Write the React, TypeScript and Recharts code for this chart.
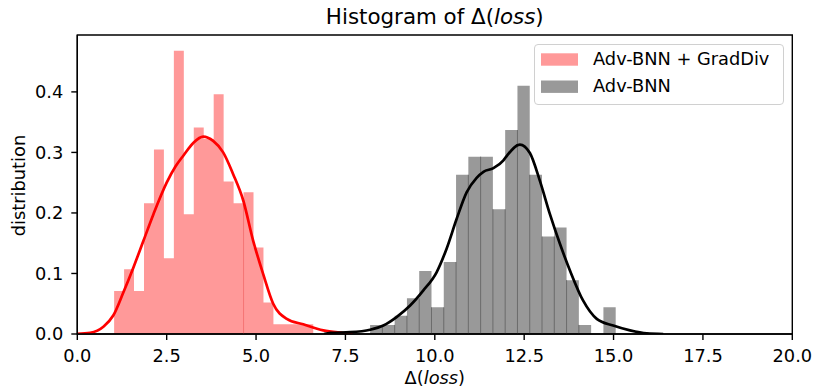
import React from 'react';
import {
  ComposedChart,
  Area,
  Line,
  XAxis,
  YAxis,
  ReferenceLine,
  ReferenceArea,
  Legend,
} from 'recharts';

// ---------- data ----------
const xTicks = [0, 2.5, 5, 7.5, 10, 12.5, 15, 17.5, 20];
const yTicks = [0, 0.1, 0.2, 0.3, 0.4];

const gradDivName = 'Adv-BNN + GradDiv';
const gradDivBinStart = 1.03;
const gradDivBinWidth = 0.2785;
const gradDivHeights = [
  0.071, 0.107, 0.071, 0.216, 0.305, 0.125, 0.468, 0.198, 0.341, 0.322,
  0.396, 0.252, 0.216, 0.234, 0.143, 0.052, 0.016, 0.016, 0.016, 0.016,
];
const gradDivVisibleEdges = [13];
const gradDivKde = [
  { x: 0.0, y: 0.0003 }, { x: 0.36, y: 0.002 }, { x: 0.73, y: 0.012 },
  { x: 1.01, y: 0.031 }, { x: 1.29, y: 0.069 }, { x: 1.57, y: 0.11 },
  { x: 1.85, y: 0.154 }, { x: 2.13, y: 0.198 }, { x: 2.5, y: 0.25 },
  { x: 2.75, y: 0.277 }, { x: 2.97, y: 0.295 }, { x: 3.25, y: 0.316 },
  { x: 3.52, y: 0.326 }, { x: 3.8, y: 0.319 }, { x: 4.08, y: 0.3 },
  { x: 4.36, y: 0.264 }, { x: 4.64, y: 0.221 }, { x: 4.92, y: 0.154 },
  { x: 5.2, y: 0.099 }, { x: 5.48, y: 0.05 }, { x: 5.86, y: 0.025 },
  { x: 6.32, y: 0.016 }, { x: 6.88, y: 0.006 }, { x: 7.44, y: 0.0017 },
  { x: 7.7, y: 0 },
];

const advBnnName = 'Adv-BNN';
const advBnnBinStart = 8.19;
const advBnnBinWidth = 0.3435;
const advBnnHeights = [
  0.015, 0.015, 0.03, 0.059, 0.104, 0.044, 0.119, 0.263, 0.293, 0.293,
  0.206, 0.337, 0.41, 0.263, 0.161, 0.176, 0.089, 0.015, 0, 0.044,
];
const advBnnKde = [
  { x: 6.9, y: 0 }, { x: 7.08, y: 0.002 }, { x: 7.63, y: 0.003 },
  { x: 8.19, y: 0.007 }, { x: 8.56, y: 0.014 }, { x: 8.93, y: 0.028 },
  { x: 9.31, y: 0.047 }, { x: 9.68, y: 0.072 }, { x: 10.05, y: 0.102 },
  { x: 10.33, y: 0.141 }, { x: 10.61, y: 0.19 }, { x: 10.89, y: 0.234 },
  { x: 11.17, y: 0.258 }, { x: 11.36, y: 0.268 }, { x: 11.64, y: 0.274 },
  { x: 11.92, y: 0.287 }, { x: 12.01, y: 0.294 }, { x: 12.38, y: 0.313 },
  { x: 12.66, y: 0.299 }, { x: 12.94, y: 0.253 }, { x: 13.22, y: 0.198 },
  { x: 13.5, y: 0.149 }, { x: 13.78, y: 0.105 }, { x: 14.15, y: 0.055 },
  { x: 14.53, y: 0.025 }, { x: 14.99, y: 0.014 }, { x: 15.46, y: 0.006 },
  { x: 15.93, y: 0.001 }, { x: 16.39, y: 0 },
];

const legendOrder = [gradDivName, advBnnName];
const colorByName: Record<string, string> = {
  [gradDivName]: '#ff9999',
  [advBnnName]: '#999999',
};

// ---------- helpers ----------
function histSteps(start: number, width: number, heights: number[]) {
  const pts = heights.map((h, i) => ({ x: start + i * width, y: h }));
  pts.push({ x: start + heights.length * width, y: heights[heights.length - 1] });
  return pts;
}

function edgeSegments(start: number, width: number, heights: number[], only?: number[]) {
  const segs: { x: number; top: number }[] = [];
  for (let i = 1; i < heights.length; i++) {
    if (only && !only.includes(i)) continue;
    const top = Math.min(heights[i - 1], heights[i]);
    if (top > 0) segs.push({ x: start + i * width, top });
  }
  return segs;
}

const gradDivSteps = histSteps(gradDivBinStart, gradDivBinWidth, gradDivHeights);
const advBnnSteps = histSteps(advBnnBinStart, advBnnBinWidth, advBnnHeights);
const gradDivEdges = edgeSegments(gradDivBinStart, gradDivBinWidth, gradDivHeights, gradDivVisibleEdges);
const advBnnEdges = edgeSegments(advBnnBinStart, advBnnBinWidth, advBnnHeights);

const FONT = 'DejaVu Sans';
const tickStyle = { fill: '#000', fontSize: 17.8, fontFamily: FONT };

const renderLegend = (props: any) => {
  const items = (props.payload || [])
    .filter((p: any) => p.type !== 'none' && legendOrder.includes(p.value))
    .slice()
    .sort((a: any, b: any) => legendOrder.indexOf(a.value) - legendOrder.indexOf(b.value));
  return (
    <svg width={250} height={61} style={{ display: 'block' }}>
      <rect x={0.5} y={0.5} width={249} height={60} rx={3.5} fill="#fff" fillOpacity={0.8} stroke="#d0d0d0" strokeWidth={1} />
      {items.map((it: any, i: number) => {
        const cy = 15.5 + i * 27.2;
        const color = colorByName[it.value] ?? it.color;
        return (
          <g key={i}>
            <rect x={7} y={cy - 6.2} width={37} height={12.4} fill={color} />
            <text x={59} y={cy + 5.7} fontSize={17.8} fontFamily={FONT} fill="#000">
              {it.value}
            </text>
          </g>
        );
      })}
    </svg>
  );
};

export default function App() {
  return (
    <div style={{ position: 'absolute', left: 0, top: 0, width: 815, height: 390, background: '#fff' }}>
      <ComposedChart
        width={815}
        height={390}
        margin={{ top: 35, right: 22.7, bottom: 0, left: 0 }}
      >
        <XAxis
          dataKey="x"
          type="number"
          domain={[0, 20]}
          ticks={xTicks}
          allowDataOverflow
          tickFormatter={(v: number) => v.toFixed(1)}
          height={56}
          tickSize={6}
          tickMargin={9}
          tick={tickStyle}
          axisLine={{ stroke: '#000', strokeWidth: 1.4 }}
          tickLine={{ stroke: '#000', strokeWidth: 1.4 }}
        />
        <YAxis
          type="number"
          domain={[0, 0.494]}
          ticks={yTicks}
          allowDataOverflow
          tickFormatter={(v: number) => v.toFixed(1)}
          width={77.3}
          tickSize={6}
          tickMargin={8}
          tick={tickStyle}
          axisLine={{ stroke: '#000', strokeWidth: 1.4 }}
          tickLine={{ stroke: '#000', strokeWidth: 1.4 }}
        />
        <Area
          name={gradDivName}
          data={gradDivSteps}
          dataKey="y"
          type="stepAfter"
          fill="#ff9999"
          fillOpacity={1}
          stroke="none"
          isAnimationActive={false}
        />
        {gradDivEdges.map((e, i) => (
          <ReferenceLine
            key={`gd-${i}`}
            segment={[{ x: e.x, y: 0 }, { x: e.x, y: e.top }]}
            stroke="#f26b6b"
            strokeWidth={0.8}
          />
        ))}
        <Line
          name="gradDivKde"
          data={gradDivKde}
          dataKey="y"
          type="monotone"
          dot={false}
          stroke="#ff0000"
          strokeWidth={2.7}
          legendType="none"
          isAnimationActive={false}
        />
        <Area
          name={advBnnName}
          data={advBnnSteps}
          dataKey="y"
          type="stepAfter"
          fill="#999999"
          fillOpacity={1}
          stroke="none"
          isAnimationActive={false}
        />
        {advBnnEdges.map((e, i) => (
          <ReferenceLine
            key={`ab-${i}`}
            segment={[{ x: e.x, y: 0 }, { x: e.x, y: e.top }]}
            stroke="#5f5f5f"
            strokeWidth={0.8}
          />
        ))}
        <Line
          name="advBnnKde"
          data={advBnnKde}
          dataKey="y"
          type="monotone"
          dot={false}
          stroke="#000000"
          strokeWidth={2.7}
          legendType="none"
          isAnimationActive={false}
        />
        <ReferenceArea
          x1={0}
          x2={20}
          y1={0}
          y2={0.494}
          fill="none"
          fillOpacity={0}
          stroke="#000"
          strokeWidth={1.4}
        />
        <Legend
          layout="horizontal"
          verticalAlign="middle"
          align="center"
          itemSorter={null as any}
          content={renderLegend}
          wrapperStyle={{ left: 534, top: 44, width: 250, height: 61 }}
        />
      </ComposedChart>
      <svg
        width={815}
        height={390}
        style={{ position: 'absolute', left: 0, top: 0, pointerEvents: 'none' }}
      >
        <text x={434.8} y={24} textAnchor="middle" fontSize={21.4} fontFamily={FONT} fill="#000">
          Histogram of Δ(<tspan fontStyle="italic">loss</tspan>)
        </text>
        <text x={434.8} y={384} textAnchor="middle" fontSize={17.8} fontFamily={FONT} fill="#000">
          Δ(<tspan fontStyle="italic">loss</tspan>)
        </text>
        <text
          x={0}
          y={0}
          transform="translate(25,185.5) rotate(-90)"
          textAnchor="middle"
          fontSize={17.8}
          fontFamily={FONT}
          fill="#000"
        >
          distribution
        </text>
      </svg>
    </div>
  );
}
